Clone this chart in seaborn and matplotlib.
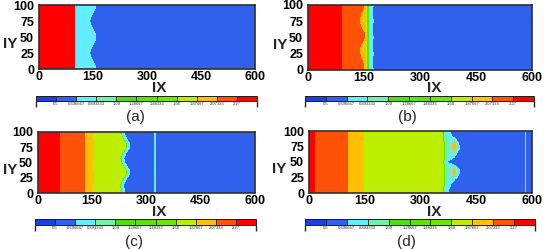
import numpy as np
import matplotlib
matplotlib.use("Agg")
import matplotlib.pyplot as plt
import seaborn as sns
from matplotlib.colors import ListedColormap, BoundaryNorm
from matplotlib.cm import ScalarMappable

sns.set_theme(style="white")
plt.rcParams['font.family'] = ['Liberation Sans', 'DejaVu Sans']

# ---------------- legend / contour levels ----------------
LEVELS = [0.5, 0.696667, 0.893333, 1.09, 1.28667, 1.48333, 1.68, 1.87667, 2.07333, 2.27]
LEVEL_LABELS = ["0.5", "0.696667", "0.893333", "1.09", "1.28667",
                "1.48333", "1.68", "1.87667", "2.07333", "2.27"]
BAND_COLORS = ['#1d3fe0', '#2f60ee', '#62eeff', '#74f0a8', '#52dc12', '#5fe104',
               '#6ee600', '#bdee00', '#ffc000', '#ff5208', '#ff0000']

# representative value of each colour band
BLUE, CYAN, MINT, GREEN, YG, YELLOW, ORANGE, RED = 0.6, 0.8, 1.0, 1.4, 1.78, 1.97, 2.17, 2.32

X_TICKS = [0, 150, 300, 450, 600]
Y_TICKS = [0, 25, 50, 75, 100]
PANEL_LABELS = ["(a)", "(b)", "(c)", "(d)"]

# IY sample rows at which interface positions (IX) were read
Y_PTS = [0, 6.25, 12.5, 18.75, 25, 31.25, 37.5, 43.75, 50,
         56.25, 62.5, 68.75, 75, 81.25, 87.5, 93.75, 100]

# ---------------- panel (a) ----------------
A_RED_END = 100
A_FRONT = [159, 157, 151, 145, 143, 145, 151, 157, 159, 157, 151, 145, 143, 145, 151, 157, 159]

# ---------------- panel (b) ----------------
B_RED_END = 90
B_YELLOW = [150, 150, 148, 143, 140, 139, 141, 147, 153, 153, 146, 141, 139, 140, 144, 149, 150]
B_YG, B_GREEN, B_MINT, B_CYAN = 155, 158, 163, 167
B_BLUE = [176, 175, 174, 175, 176, 175, 174, 175, 176, 175, 174, 175, 176, 175, 174, 175, 176]

# ---------------- panel (c) ----------------
C_RED_END, C_ORANGE_END = 60, 130
C_YELLOW = [152, 152, 153, 155, 156, 155, 153, 152, 151, 152, 153, 155, 156, 155, 153, 152, 152]
C_FRONT = [230, 229, 228, 231, 238, 244, 243, 237, 230, 228, 231, 238, 244, 243, 237, 231, 228]
C_SHOCK = [320, 325]

# ---------------- panel (d) ----------------
D_RED_END, D_ORANGE_END, D_YELLOW_END = 16, 105, 147
D_FRONT = [360, 361, 362, 362, 362, 363, 363, 362, 361, 362, 363, 363, 363, 362, 361, 360, 359]
D_CYAN = [366, 366, 368, 372, 378, 380, 380, 376, 368, 372, 378, 380, 380, 380, 376, 368, 366]
D_CORE_L = [375, 375, 378, 384, 388, 386, 386, 390, 370, 384, 390, 387, 385, 387, 392, 380, 378]
D_CORE_R = [375, 375, 378, 384, 392, 396, 396, 390, 370, 384, 390, 395, 397, 394, 392, 380, 378]
D_OUTER = [378, 378, 382, 390, 400, 405, 405, 398, 374, 390, 398, 404, 406, 403, 396, 384, 380]
D_SHOCK = [582, 585]

NX, NY = 600, 100
xc = np.arange(NX) + 0.5
yc = np.arange(NY) + 0.5
ypts = np.asarray(Y_PTS, dtype=float)


def build_field(bounds, vals):
    B = np.array([np.interp(yc, ypts, np.broadcast_to(np.asarray(b, float), ypts.shape))
                  for b in bounds])
    idx = (xc[None, None, :] >= B[:, :, None]).sum(axis=0)
    return np.asarray(vals)[idx]


thin = lambda arr, d: list(np.asarray(arr, float) + d)

fields = [
    build_field([A_RED_END, A_FRONT], [RED, CYAN, BLUE]),
    build_field([B_RED_END, B_YELLOW, B_YG, B_GREEN, B_MINT, B_CYAN, B_BLUE],
                [RED, ORANGE, YELLOW, YG, GREEN, MINT, CYAN, BLUE]),
    build_field([C_RED_END, C_ORANGE_END, C_YELLOW, C_FRONT, thin(C_FRONT, 2), thin(C_FRONT, 4),
                 thin(C_FRONT, 11), C_SHOCK[0], C_SHOCK[1]],
                [RED, ORANGE, YELLOW, YG, GREEN, MINT, CYAN, BLUE, CYAN, BLUE]),
    build_field([D_RED_END, D_ORANGE_END, D_YELLOW_END, D_FRONT, thin(D_FRONT, 3), D_CYAN,
                 D_CORE_L, D_CORE_R, D_OUTER, D_SHOCK[0], D_SHOCK[1]],
                [RED, ORANGE, YELLOW, YG, GREEN, MINT, CYAN, YELLOW, CYAN, BLUE, CYAN, BLUE]),
]

half = (LEVELS[1] - LEVELS[0]) / 2
bounds = [LEVELS[0] - half] + LEVELS + [LEVELS[-1] + half]
cmap = ListedColormap(BAND_COLORS)
norm = BoundaryNorm(bounds, cmap.N)

W, H = 545, 249
fig = plt.figure(figsize=(W / 100, H / 100), dpi=100)
fig.patch.set_facecolor('white')


def rect(l, t, r, b):
    return [l / W, 1 - b / H, (r - l) / W, (b - t) / H]


LAYOUT = [
    dict(ax=(39, 5, 255, 69), cb=(36, 96, 257, 101), ix=(159, 88.5), iy=(10, 44), lab=(135, 117)),
    dict(ax=(308, 5, 532, 70), cb=(305, 96, 534, 101), ix=(434, 88.5), iy=(280, 45), lab=(407, 117)),
    dict(ax=(38, 132, 255, 193), cb=(35, 219, 256, 225), ix=(159, 212), iy=(10, 170), lab=(134, 242)),
    dict(ax=(309, 131, 532, 193), cb=(305, 219, 535, 225), ix=(434, 212.5), iy=(279, 169), lab=(406, 242)),
]

for Z, lay, plab in zip(fields, LAYOUT, PANEL_LABELS):
    ax = fig.add_axes(rect(*lay['ax']))
    sns.heatmap(Z, ax=ax, cmap=cmap, norm=norm, cbar=False,
                xticklabels=False, yticklabels=False)
    ax.set_xlim(0, 600)
    ax.set_ylim(0, 100)
    ax.set_xticks(X_TICKS)
    ax.set_xticklabels([str(v) for v in X_TICKS], fontsize=9, fontweight='bold')
    ax.set_yticks(Y_TICKS)
    ax.set_yticklabels([str(v) for v in Y_TICKS], fontsize=9, fontweight='bold')
    ax.tick_params(axis='x', length=0, pad=1.5, colors='black')
    ax.tick_params(axis='y', length=0, pad=3.5, colors='black')
    for s in ax.spines.values():
        s.set_visible(True)
        s.set_linewidth(1.2)
        s.set_color('#303030')

    cax = fig.add_axes(rect(*lay['cb']))
    cb = fig.colorbar(ScalarMappable(norm=norm, cmap=cmap), cax=cax,
                      orientation='horizontal', ticks=LEVELS, drawedges=True)
    cb.set_ticklabels(LEVEL_LABELS)
    cb.ax.tick_params(labelsize=3, length=0, pad=1)
    cb.outline.set_linewidth(0.7)
    cb.outline.set_edgecolor('#202020')
    cb.dividers.set_linewidth(0.6)
    cb.dividers.set_color('#202020')

    fig.text(lay['ix'][0] / W, 1 - lay['ix'][1] / H, "IX", ha='center', va='center',
             fontsize=11, fontweight='bold')
    fig.text(lay['iy'][0] / W, 1 - lay['iy'][1] / H, "IY", ha='center', va='center',
             fontsize=11, fontweight='bold')
    fig.text(lay['lab'][0] / W, 1 - lay['lab'][1] / H, plab, ha='center', va='center',
             fontsize=11)

fig.savefig("out.png", dpi=100)
